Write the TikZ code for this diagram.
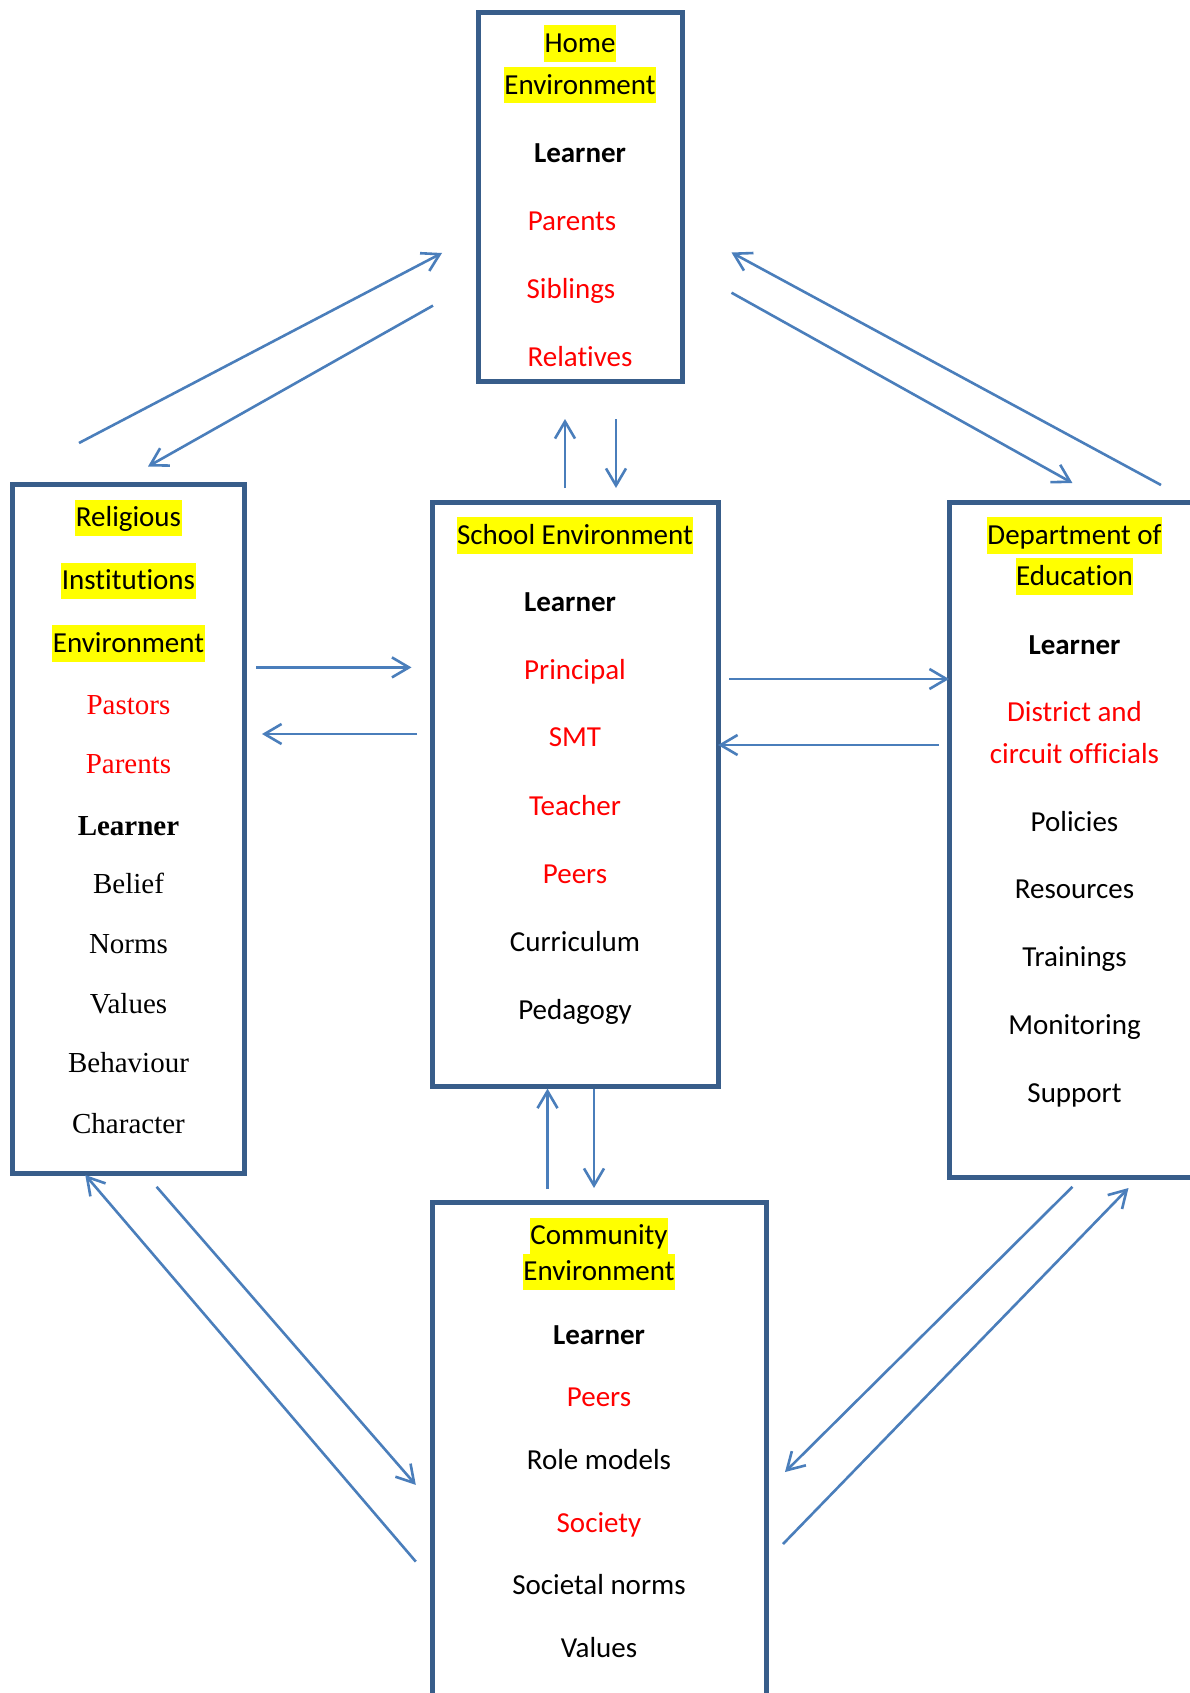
\documentclass[tikz,border=0pt]{standalone}
\usepackage{fontspec}
\setmainfont{Carlito}[Ligatures=NoCommon]
\newfontfamily\timesfont{Liberation Serif}[Ligatures=NoCommon]
\usetikzlibrary{arrows.meta}
\definecolor{boxblue}{HTML}{385D8A}
\definecolor{arrowblue}{HTML}{4A7EBB}
\definecolor{hlyellow}{HTML}{FFFF00}
\definecolor{txtred}{HTML}{FF0000}
\tikzset{
  lbl/.style={font=\fontsize{29}{35}\selectfont, inner xsep=0.5pt, inner ysep=1.3pt,
    text height=26pt, text depth=8pt, anchor=center, yshift=-1.8pt},
  hl/.style={lbl, fill=hlyellow},
  rd/.style={lbl, text=txtred},
  bd/.style={lbl, font=\fontsize{29}{35}\selectfont\bfseries},
  tm/.style={lbl, font=\fontsize{29}{35}\selectfont\timesfont},
  tmrd/.style={tm, text=txtred},
  tmbd/.style={lbl, font=\fontsize{29}{35}\selectfont\timesfont\bfseries},
  envbox/.style={draw=boxblue, line width=5pt, fill=none, rectangle, inner sep=0pt, outer sep=0pt},
  arr/.style={draw=arrowblue, line width=2.6pt, -{Straight Barb[length=17pt,width=20pt]}}
}
\begin{document}
\begin{tikzpicture}[x=1pt,y=-1pt]
\useasboundingbox (0,0) rectangle (1190,1693);
\fill[white] (0,0) rectangle (1190,1693);
\clip (0,0) rectangle (1190,1693);

% boxes
\node[envbox, minimum width=204pt, minimum height=369pt] (home) at (580.4,197) {};
\node[envbox, minimum width=232pt, minimum height=689pt] (relig) at (128,828.5) {};
\node[envbox, minimum width=286pt, minimum height=584pt] (school) at (575,794) {};
\node[envbox, minimum width=251pt, minimum height=675pt] (doe) at (1074.5,839.5) {};
\node[envbox, minimum width=334pt, minimum height=560pt] (comm) at (599,1482) {};

% Home environment
\node[hl] (h1) at (580,41.7) {Home};
\node[hl] (h2) at (580,83.3) {Environment};
\node[bd] (h3) at (580,152) {Learner};
\node[rd] (h4) at (572,220) {Parents};
\node[rd] (h5) at (571,288) {Siblings};
\node[rd] (h6) at (580,356) {Relatives};

% Religious
\node[hl] (r1) at (128.5,516) {Religious};
\node[hl] (r2) at (128.5,579) {Institutions};
\node[hl] (r3) at (128.5,641.5) {Environment};
\node[tmrd] (r4) at (128.5,704) {Pastors};
\node[tmrd] (r5) at (128.5,763) {Parents};
\node[tmbd] (r6) at (128.5,825) {Learner};
\node[tm] (r7) at (128.5,883) {Belief};
\node[tm] (r8) at (128.5,943) {Norms};
\node[tm] (r9) at (128.5,1003) {Values};
\node[tm] (r10) at (128.5,1062) {Behaviour};
\node[tm] (r11) at (128.5,1123) {Character};

% School
\node[hl] (s1) at (575,533.5) {School Environment};
\node[bd] (s2) at (570,601) {Learner};
\node[rd] (s3) at (575,669) {Principal};
\node[rd] (s4) at (575,736) {SMT};
\node[rd] (s5) at (575,805) {Teacher};
\node[rd] (s6) at (575,873) {Peers};
\node[lbl] (s7) at (575,941) {Curriculum};
\node[lbl] (s8) at (575,1009) {Pedagogy};

% Department of Education
\node[hl] (d1) at (1074.5,533.5) {Department of};
\node[hl] (d2) at (1074.5,574.5) {Education};
\node[bd] (d3) at (1074.5,644) {Learner};
\node[rd] (d4) at (1074.5,711) {District and};
\node[rd] (d5) at (1074.5,753) {circuit officials};
\node[lbl] (d6) at (1074.5,821) {Policies};
\node[lbl] (d7) at (1074.5,888) {Resources};
\node[lbl] (d8) at (1074.5,956) {Trainings};
\node[lbl] (d9) at (1074.5,1024) {Monitoring};
\node[lbl] (d10) at (1074.5,1092) {Support};

% Community
\node[hl] (c1) at (599,1234) {Community};
\node[hl] (c2) at (599,1270) {Environment};
\node[bd] (c3) at (599,1334) {Learner};
\node[rd] (c4) at (599,1396) {Peers};
\node[lbl] (c5) at (599,1459) {Role models};
\node[rd] (c6) at (599,1522) {Society};
\node[lbl] (c7) at (599,1584) {Societal norms};
\node[lbl] (c8) at (599,1647) {Values};

% arrow end points
\coordinate (rh1) at (79,443);    \coordinate (rh2) at (442,253);
\coordinate (hr1) at (433,305.6); \coordinate (hr2) at (148,466.5);
\coordinate (dh1) at (1161,485);  \coordinate (dh2) at (731.5,252.5);
\coordinate (hd1) at (731.5,292.7); \coordinate (hd2) at (1072.4,483);
\coordinate (sh1) at (565,488);   \coordinate (sh2) at (565,419);
\coordinate (hs1) at (616,419);   \coordinate (hs2) at (616,488);
\coordinate (rs1) at (256,667.4); \coordinate (rs2) at (411.5,667.4);
\coordinate (sr1) at (417,734);   \coordinate (sr2) at (262,734);
\coordinate (sd1) at (729,679);   \coordinate (sd2) at (949,679);
\coordinate (ds1) at (938.5,745); \coordinate (ds2) at (718,745);
\coordinate (cs1) at (547.5,1189); \coordinate (cs2) at (547.5,1088.6);
\coordinate (sc1) at (594,1089);  \coordinate (sc2) at (594,1188);
\coordinate (cr1) at (415.8,1561.6); \coordinate (cr2) at (85.3,1175);
\coordinate (rc1) at (156.6,1186.8); \coordinate (rc2) at (415.8,1484.9);
\coordinate (dc1) at (1072.4,1186.8); \coordinate (dc2) at (785,1472);
\coordinate (cd1) at (783,1544);  \coordinate (cd2) at (1128.5,1188);

\draw[arr] (rh1) -- (rh2);
\draw[arr] (hr1) -- (hr2);
\draw[arr] (dh1) -- (dh2);
\draw[arr] (hd1) -- (hd2);
\draw[arr] (sh1) -- (sh2);
\draw[arr] (hs1) -- (hs2);
\draw[arr] (rs1) -- (rs2);
\draw[arr] (sr1) -- (sr2);
\draw[arr] (sd1) -- (sd2);
\draw[arr] (ds1) -- (ds2);
\draw[arr] (cs1) -- (cs2);
\draw[arr] (sc1) -- (sc2);
\draw[arr] (cr1) -- (cr2);
\draw[arr] (rc1) -- (rc2);
\draw[arr] (dc1) -- (dc2);
\draw[arr] (cd1) -- (cd2);
\end{tikzpicture}
\end{document}
